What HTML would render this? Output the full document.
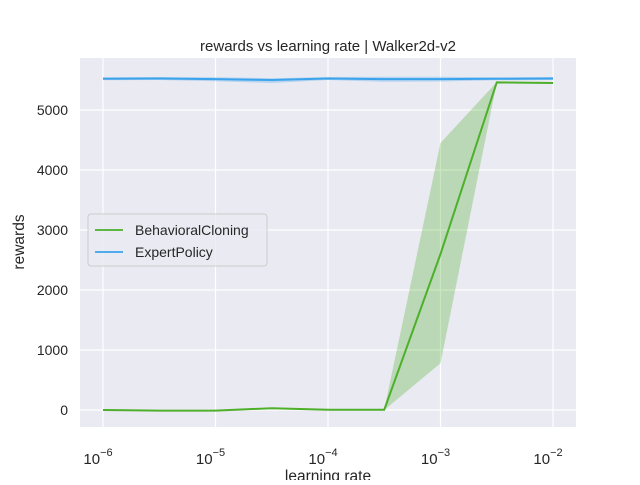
<!DOCTYPE html>
<html><head><meta charset="utf-8"><style>
body{margin:0;background:#fff}
svg text{font-family:"Liberation Sans","DejaVu Sans",sans-serif;fill:#262626}
</style></head><body>
<svg width="640" height="480" id="c">
<text x="328" y="51" font-size="15" text-anchor="middle">rewards vs learning rate | Walker2d-v2</text>
<rect x="80" y="58" width="496" height="369" fill="#eaeaf2"/>
<g id="grid"></g>
<g id="marks"></g>
<text x="328" y="481" font-size="15.5" text-anchor="middle">learning rate</text>
<text transform="translate(24,242) rotate(-90)" font-size="15.5" text-anchor="middle">rewards</text>
<g>
<rect x="88" y="214" width="179" height="52" rx="3" fill="#eaeaf2" fill-opacity="0.8" stroke="#ccc"/>
<line x1="95" y1="230" x2="123" y2="230" stroke="#4daf2a" stroke-width="1.8"/>
<text x="135" y="235" font-size="14">BehavioralCloning</text>
<line x1="95" y1="252" x2="123" y2="252" stroke="#3ba3ec" stroke-width="1.8"/>
<text x="135" y="257" font-size="14">ExpertPolicy</text>
</g>
</svg>
<script>
const lrExp=[-6,-5.5,-5,-4.5,-4,-3.5,-3,-2.5,-2];
const bcMean=[0,-10,-10,30,5,5,2600,5460,5450];
const bcLow=[-5,-15,-15,20,0,0,780,5455,5445];
const bcHigh=[5,-5,-5,40,10,10,4450,5465,5455];
const epMean=[5520,5525,5515,5500,5525,5515,5515,5520,5525];
const epLow=[5495,5500,5480,5450,5500,5470,5475,5495,5500];
const epHigh=[5545,5550,5545,5530,5550,5555,5555,5545,5550];
const xTicks=[-6,-5,-4,-3,-2];
const yTicks=[0,1000,2000,3000,4000,5000];
const X=e=>103+(e+6)*112.5, Y=v=>410-v*0.06;
const NS="http://www.w3.org/2000/svg";
const grid=document.getElementById('grid'),marks=document.getElementById('marks'),svg=document.getElementById('c');
function mk(t,a,p){const el=document.createElementNS(NS,t);for(const k in a)el.setAttribute(k,a[k]);p.appendChild(el);return el;}
xTicks.forEach(e=>{
 const l=mk('line',{x1:X(e),x2:X(e),y1:58,y2:427,stroke:'#fff','stroke-width':1.2},grid);
 
 
 const t=mk('text',{x:X(e)-5,y:464,'font-size':15,'text-anchor':'middle'},svg);
 
 
 t.textContent='10';
 const s=mk('tspan',{dy:-8,'font-size':11},t);s.textContent='\u2212'+(-e);
});
yTicks.forEach(v=>{
 const l=mk('line',{x1:80,x2:576,y1:Y(v),y2:Y(v),stroke:'#fff','stroke-width':1.2},grid);
 
 
 const t=mk('text',{x:68,y:Y(v)+5,'font-size':14,'text-anchor':'end'},svg);
 
 
 t.textContent=v;
});
function band(lo,hi,col,name){
 let d='M'+lrExp.map((e,i)=>X(e)+','+Y(hi[i])).join('L');
 for(let i=lrExp.length-1;i>=0;i--)d+='L'+X(lrExp[i])+','+Y(lo[i]);
 const p=mk('path',{d:d+'Z',fill:col,'fill-opacity':0.3},marks);
 
 
}
function line(m,col,name){
 const p=mk('polyline',{points:lrExp.map((e,i)=>X(e)+','+Y(m[i])).join(' '),fill:'none',stroke:col,'stroke-width':2},marks);
 
 
}
band(bcLow,bcHigh,'#4daf2a','bc-band');
band(epLow,epHigh,'#3ba3ec','ep-band');
line(bcMean,'#4daf2a','bc-line');
line(epMean,'#3ba3ec','ep-line');
</script>
</body></html>
